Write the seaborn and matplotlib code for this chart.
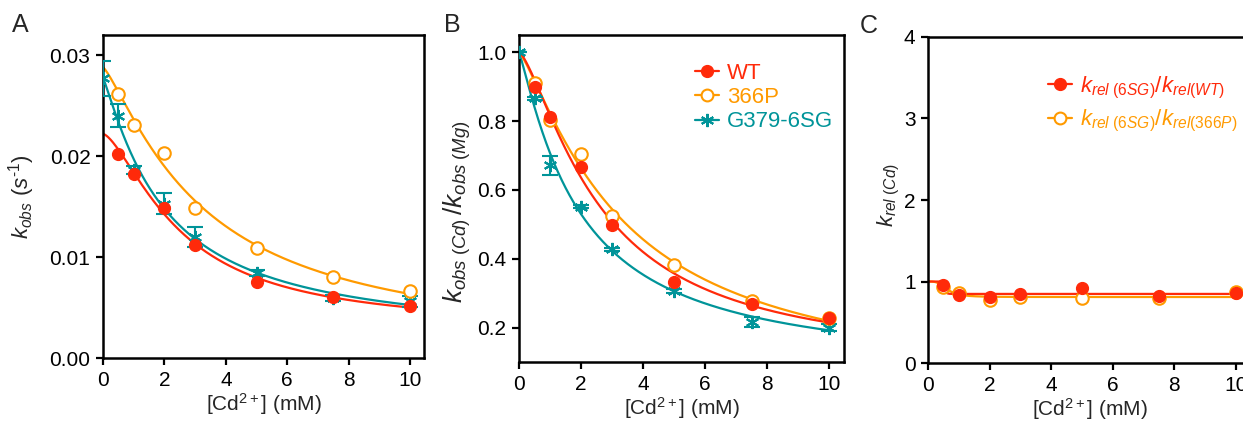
import numpy as np
import pandas as pd
import matplotlib
matplotlib.use("Agg")
import matplotlib.pyplot as plt
from matplotlib.lines import Line2D
import seaborn as sns

# ---------------- data ----------------
cd = [0.5, 1, 2, 3, 5, 7.5, 10]
cd_6sg = [0, 0.5, 1, 2, 3, 5, 7.5, 10]

# Panel A: kobs (s^-1)
kobs_wt = [0.0202, 0.0182, 0.0149, 0.0112, 0.0075, 0.0060, 0.0052]
kobs_366p = [0.0262, 0.0231, 0.0203, 0.0149, 0.0109, 0.0080, 0.0066]
kobs_6sg = [0.0277, 0.0240, 0.0186, 0.0153, 0.0120, 0.0084, 0.0059, 0.0056]
kobs_6sg_err = [0.0017, 0.00115, 0.0004, 0.0010, 0.0010, 0.0003, 0.0003, 0.0005]
# kobs in Mg2+ (no Cd), used as the fit intercepts
kobs_mg_wt = 0.0222
kobs_mg_366p = 0.0288

# Panel B: kobs(Cd)/kobs(Mg)
rel_wt = [0.899, 0.811, 0.666, 0.499, 0.331, 0.268, 0.227]
rel_366p = [0.911, 0.802, 0.705, 0.523, 0.383, 0.277, 0.229]
rel_6sg = [1.0, 0.866, 0.671, 0.551, 0.427, 0.306, 0.216, 0.200]
rel_6sg_err = [0.0, 0.005, 0.027, 0.005, 0.005, 0.005, 0.015, 0.010]

# Panel C: krel(Cd) ratios
ratio_wt = [0.956, 0.833, 0.813, 0.842, 0.923, 0.821, 0.854]
ratio_366p = [0.935, 0.854, 0.772, 0.805, 0.800, 0.793, 0.874]

labels_b = ["WT", "366P", "G379-6SG"]
labels_c = [r"$k_{rel\ (6SG)}/k_{rel(WT)}$", r"$k_{rel\ (6SG)}/k_{rel(366P)}$"]
xticks = [0, 2, 4, 6, 8, 10]

RED = "#FF2A0A"
ORANGE = "#FF9A00"
TEAL = "#009499"


def hill_fit(x, y, top=None):
    """Grid-search least squares fit of y = b + (t-b)/(1+(x/K)^n)."""
    x = np.asarray(x, float)
    y = np.asarray(y, float)
    Ks = np.logspace(-1, 1.6, 260)
    ns = np.linspace(0.5, 20, 391)
    best = None
    for K in Ks:
        f = 1.0 / (1.0 + (x[None, :] / K) ** ns[:, None])
        if top is None:
            fm = f.mean(axis=1, keepdims=True)
            ym = y.mean()
            a = ((f - fm) * (y - ym)).sum(axis=1) / ((f - fm) ** 2).sum(axis=1)
            b = ym - a * fm[:, 0]
            pred = b[:, None] + a[:, None] * f
            t = a + b
        else:
            g = 1 - f
            c = ((y - top)[None, :] * g).sum(axis=1) / (g ** 2).sum(axis=1)
            b = top + c
            pred = top + c[:, None] * g
            t = np.full_like(b, top)
        sse = ((pred - y[None, :]) ** 2).sum(axis=1)
        i = np.argmin(sse)
        if best is None or sse[i] < best[0]:
            best = (sse[i], K, ns[i], b[i], t[i])
    _, K, n, b, t = best
    return lambda xx: b + (t - b) / (1.0 + (np.asarray(xx) / K) ** n)


sns.set_theme(style="ticks")
plt.rcParams["font.family"] = ["Liberation Sans", "DejaVu Sans"]
plt.rcParams["mathtext.fontset"] = "custom"
plt.rcParams["mathtext.rm"] = "Liberation Sans"
plt.rcParams["mathtext.it"] = "Liberation Sans:italic"
plt.rcParams["mathtext.bf"] = "Liberation Sans:bold"

W, H = 1243, 423
fig = plt.figure(figsize=(W / 100, H / 100), dpi=100)


def px_axes(l, t, r, b):
    return fig.add_axes([l / W, 1 - b / H, (r - l) / W, (b - t) / H])


axA = px_axes(103, 35, 424, 358)
axB = px_axes(519, 35, 844, 362)
axC = px_axes(928, 37, 1251, 363)

xs = np.linspace(0, 10, 400)
LW = 1.6
MS = 8.5


def curve(ax, fn, color):
    sns.lineplot(x=xs, y=fn(xs), ax=ax, color=color, lw=LW, zorder=2)


def filled(ax, x, y, color):
    ax.plot(x, y, "o", color=color, ms=MS, mec=color, zorder=6)


def hollow(ax, x, y, color):
    ax.plot(x, y, "o", mfc="white", mec=color, mew=1.5, ms=MS + 0.5, zorder=5)


def star(ax, x, y, err, color):
    ax.errorbar(x, y, yerr=err, fmt="none", ecolor=color, elinewidth=1.5,
                capsize=5.5, capthick=1.5, zorder=4)
    ax.plot(x, y, marker=(6, 2, 0), ls="none", color=color, mec=color,
            mew=1.5, ms=MS + 1, zorder=4)


# ---------------- Panel A ----------------
curve(axA, hill_fit(cd_6sg, kobs_6sg), TEAL)
curve(axA, hill_fit(cd, kobs_366p, top=kobs_mg_366p), ORANGE)
curve(axA, hill_fit(cd, kobs_wt, top=kobs_mg_wt), RED)
star(axA, cd_6sg, kobs_6sg, kobs_6sg_err, TEAL)
hollow(axA, cd, kobs_366p, ORANGE)
filled(axA, cd, kobs_wt, RED)
axA.set_xlim(0, 10.45)
axA.set_ylim(0, 0.032)
axA.set_yticks([0, 0.01, 0.02, 0.03])
axA.set_yticklabels(["0.00", "0.01", "0.02", "0.03"])
axA.set_ylabel(r"$k_{obs}\ (s^{‐1})$", fontsize=16)

# ---------------- Panel B ----------------
curve(axB, hill_fit(cd_6sg, rel_6sg, top=1.0), TEAL)
curve(axB, hill_fit(cd, rel_366p, top=1.0), ORANGE)
curve(axB, hill_fit(cd, rel_wt, top=1.0), RED)
star(axB, cd_6sg, rel_6sg, rel_6sg_err, TEAL)
hollow(axB, cd, rel_366p, ORANGE)
filled(axB, cd, rel_wt, RED)
axB.set_xlim(0, 10.48)
axB.set_ylim(0.1, 1.05)
axB.set_yticks([0.2, 0.4, 0.6, 0.8, 1.0])
axB.set_yticklabels(["0.2", "0.4", "0.6", "0.8", "1.0"])
axB.set_ylabel(r"$k_{obs\ (Cd)}\,/k_{obs\ (Mg)}$", fontsize=19)

hB = [
    Line2D([], [], color=RED, lw=LW, marker="o", ms=MS, mec=RED),
    Line2D([], [], color=ORANGE, lw=LW, marker="o", ms=MS, mfc="white", mec=ORANGE, mew=1.5),
    Line2D([], [], color=TEAL, lw=LW, marker=(6, 2, 0), ms=MS + 1, mew=1.5),
]
legB = axB.legend(hB, labels_b, loc="upper left", bbox_to_anchor=(0.54, 0.915),
                  frameon=False, fontsize=16, handlelength=1.1, handletextpad=0.35,
                  labelspacing=0.15, borderpad=0, borderaxespad=0)
for t, c in zip(legB.get_texts(), [RED, ORANGE, TEAL]):
    t.set_color(c)

# ---------------- Panel C ----------------
curve(axC, hill_fit(cd, ratio_366p, top=1.0), ORANGE)
curve(axC, hill_fit(cd, ratio_wt, top=1.0), RED)
hollow(axC, cd, ratio_366p, ORANGE)
filled(axC, cd, ratio_wt, RED)
axC.set_xlim(0, 10.5)
axC.set_ylim(0, 4)
axC.set_yticks([0, 1, 2, 3, 4])
axC.set_ylabel(r"$k_{rel\ (Cd)}$", fontsize=16)

hC = [
    Line2D([], [], color=RED, lw=LW, marker="o", ms=MS, mec=RED),
    Line2D([], [], color=ORANGE, lw=LW, marker="o", ms=MS, mfc="white", mec=ORANGE, mew=1.5),
]
legC = axC.legend(hC, labels_c, loc="upper left", bbox_to_anchor=(0.37, 0.885),
                  frameon=False, fontsize=16, handlelength=1.1, handletextpad=0.35,
                  labelspacing=0.35, borderpad=0, borderaxespad=0)
for t, c in zip(legC.get_texts(), [RED, ORANGE]):
    t.set_color(c)

# ---------------- common styling ----------------
for ax in (axA, axB, axC):
    ax.set_xticks(xticks)
    ax.set_xticklabels([str(v) for v in xticks])
    ax.set_xlabel(r"[Cd$^{2+}$] (mM)", fontsize=15, labelpad=1)
    for s in ax.spines.values():
        s.set_visible(True)
        s.set_linewidth(1.8)
        s.set_color("black")
    ax.tick_params(axis="both", direction="out", length=5, width=1.6,
                   labelsize=15, colors="black", pad=4)
    ax.set_facecolor("white")

axA.yaxis.set_label_coords(-0.206, 0.5)
axB.yaxis.set_label_coords(-0.142, 0.46)
axC.yaxis.set_label_coords(-0.08, 0.515)

fig.text(12 / W, 1 - 25 / H, "A", fontsize=18, va="center", ha="left")
fig.text(444 / W, 1 - 25 / H, "B", fontsize=18, va="center", ha="left")
fig.text(860 / W, 1 - 26 / H, "C", fontsize=18, va="center", ha="left")

fig.savefig("out.png", dpi=100, facecolor="white")
